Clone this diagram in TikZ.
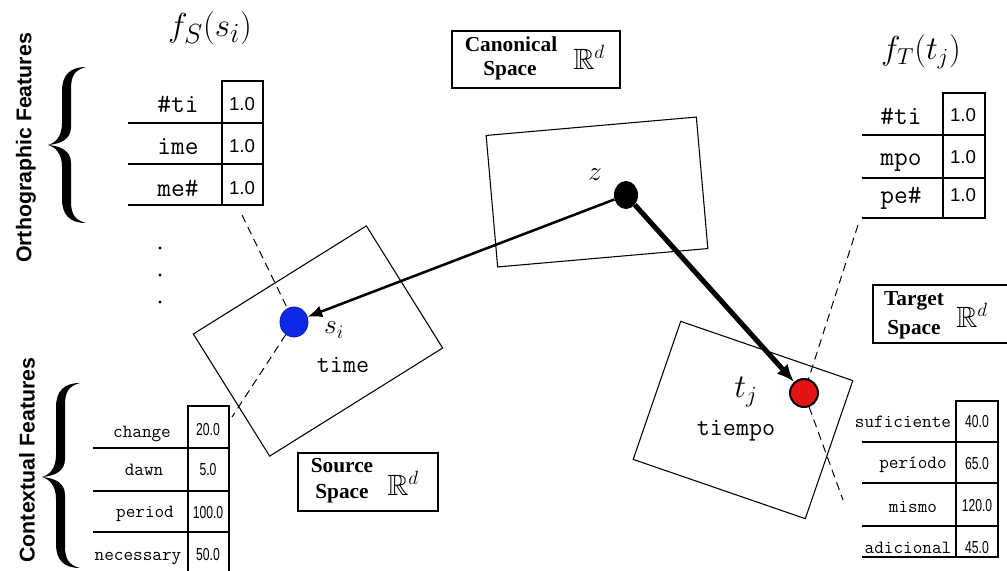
\documentclass[tikz,border=0pt]{standalone}
\usepackage{fontspec}
\usepackage{amssymb}
\newfontfamily\lsans{Liberation Sans}
\newfontfamily\lserif{Liberation Serif}
\newfontfamily\lnarrow[FakeStretch=0.7]{Liberation Sans}
\usetikzlibrary{arrows.meta,shapes.geometric}
\definecolor{dotblue}{RGB}{10,40,230}
\definecolor{dotred}{RGB}{228,20,20}
% filled curly brace: #1 spine x, #2 top y, #3 tip y, #4 bottom y (pixel units)
\newcommand{\mybrace}[4]{%
  \fill (#1+19,#2) .. controls (#1+3,#2) and (#1-5,#2+8) .. (#1-5,#2+24)
    -- (#1-5,#3-22) .. controls (#1-5,#3-8) and (#1-12,#3-2) .. (#1-19,#3)
    .. controls (#1-12,#3+2) and (#1-5,#3+8) .. (#1-5,#3+22)
    -- (#1-5,#4-24) .. controls (#1-5,#4-8) and (#1+3,#4) .. (#1+19,#4)
    .. controls (#1+7,#4-3) and (#1+4,#4-10) .. (#1+4,#4-22)
    -- (#1+4,#3+18) .. controls (#1+4,#3+6) and (#1-6,#3+1) .. (#1-19,#3)
    .. controls (#1-6,#3-1) and (#1+4,#3-6) .. (#1+4,#3-18)
    -- (#1+4,#2+22) .. controls (#1+4,#2+10) and (#1+7,#2+3) .. (#1+19,#2) -- cycle;}
\begin{document}
\begin{tikzpicture}[x=0.75pt,y=-0.75pt,
  space/.style={draw, line width=0.8pt, inner sep=0},
  lbl/.style={font=\fontsize{16}{17}\selectfont\lserif\bfseries, inner sep=0, anchor=base},
  rd/.style={font=\fontsize{22}{24}\selectfont, inner sep=0, anchor=base west},
  tt/.style={font=\fontsize{20}{22}\selectfont\ttfamily, inner sep=0, anchor=base},
  ttsm/.style={font=\fontsize{14}{16}\selectfont\ttfamily, inner sep=0, anchor=base},
  val/.style={font=\fontsize{14}{16}\selectfont\lsans, inner sep=0, anchor=base},
  valsm/.style={font=\fontsize{13}{15}\selectfont\lnarrow, inner sep=0, anchor=base},
  tab/.style={line width=1pt},
  dashline/.style={dash pattern=on 6pt off 4pt, line width=0.75pt},
  feat/.style={font=\fontsize{16}{18}\selectfont\lsans\bfseries, rotate=90, inner sep=0},
  mlbl/.style={font=\fontsize{21}{23}\selectfont, inner sep=0},
  vdot/.style={circle, fill=black, inner sep=0, minimum size=2.5pt},
]
\useasboundingbox (0,0) rectangle (1007,571);

% rotated spaces
\node[space, minimum width=158.25pt, minimum height=99pt, rotate=5] (canrect) at (597,192) {};
\node[space, minimum width=153pt, minimum height=108pt, rotate=32] (srcrect) at (318,341) {};
\node[space, minimum width=136.5pt, minimum height=109.5pt, rotate=-19] (tgtrect) at (743,420) {};

% points
\node[ellipse, fill=black, minimum width=18pt, minimum height=21pt, inner sep=0] (z) at (626,195) {};
\node[ellipse, fill=dotblue, draw=dotblue!70!black, line width=0.6pt, minimum width=21pt, minimum height=22.5pt, inner sep=0] (si) at (294,322) {};
\node[circle, fill=dotred, draw=black, line width=1.5pt, minimum size=21pt, inner sep=0] (tj) at (804,393) {};

% point labels
\node[mlbl] (zl) at (595,175) {$z$};
\node[mlbl, font=\fontsize{22}{24}\selectfont] (sil) at (334,330) {$s_i$};
\node[mlbl, font=\fontsize{27}{29}\selectfont] (tjl) at (746,392) {$t_j$};
\node[font=\fontsize{19}{21}\selectfont\ttfamily, inner sep=0] (timel) at (343,365) {time};
\node[font=\fontsize{19}{21}\selectfont\ttfamily, inner sep=0] (tiempol) at (736,431) {tiempo};

% arrows
\draw[line width=1.9pt, -{Latex[length=11pt,width=9pt]}] (z) -- (si);
\draw[line width=3.8pt, -{Latex[length=13pt,width=11pt]}] (z) -- (tj);

% dashed projections
\coordinate (sdu) at (242,215);
\coordinate (sdl) at (232,417);
\coordinate (tdu) at (858,225);
\coordinate (tdl) at (843,500);
\draw[dashline] (sdu) -- (si);
\draw[dashline] (si) -- (sdl);
\draw[dashline] (tdu) -- (tj);
\draw[dashline] (tj) -- (tdl);

% space boxes
\node[space, minimum width=126pt, minimum height=42.75pt] (canbox) at (536,59.5) {};
\node[lbl] (can1) at (511,51) {Canonical};
\node[lbl] (can2) at (510,75) {Space};
\node[rd] (canR) at (573,69) {$\mathbb{R}^d$};

\node[space, minimum width=105pt, minimum height=43.5pt] (srcbox) at (368,482) {};
\node[lbl] (src1) at (342,472) {Source};
\node[lbl] (src2) at (342,498) {Space};
\node[rd] (srcR) at (387,495) {$\mathbb{R}^d$};

\node[space, minimum width=106.5pt, minimum height=43.5pt] (tgtbox) at (944,314) {};
\node[lbl] (tgt1) at (914,305) {Target};
\node[lbl] (tgt2) at (914,334) {Space};
\node[rd] (tgtR) at (956,327) {$\mathbb{R}^d$};

% feature function labels
\node[font=\fontsize{28}{30}\selectfont, inner sep=0] (fs) at (210,28) {$f_S(s_i)$};
\node[font=\fontsize{24}{26}\selectfont, inner sep=0] (ft) at (921,52) {$f_T(t_j)$};

% side labels and braces
\node[feat] (orth) at (26,148) {Orthographic Features};
\node[feat] (ctx) at (27,460) {Contextual Features};
\mybrace{67}{67}{145}{223}
\mybrace{61}{383}{477}{568}

% left orthographic table
\draw[tab] (222,81) rectangle (263,205);
\draw[tab] (128,123) -- (263,123);
\draw[tab] (128,164) -- (263,164);
\draw[tab] (128,205) -- (263,205);
\node[tt] (lo1) at (178,112) {\#ti};
\node[tt] (lo2) at (178,154) {ime};
\node[tt] (lo3) at (178,196) {me\#};
\node[val] (lov1) at (242,110) {1.0};
\node[val] (lov2) at (242,152) {1.0};
\node[val] (lov3) at (242,194) {1.0};
\node[vdot] (vd1) at (160,248) {};
\node[vdot] (vd2) at (160,275) {};
\node[vdot] (vd3) at (160,302) {};

% left contextual table
\draw[tab] (188,575) -- (188,406) -- (229,406) -- (229,575);
\draw[line width=2pt] (93,448) -- (229,448);
\draw[tab] (93,491) -- (229,491);
\draw[tab] (93,532) -- (229,532);
\node[ttsm] (lc1) at (142,437) {change};
\node[ttsm] (lc2) at (144,475) {dawn};
\node[ttsm] (lc3) at (145,517) {period};
\node[ttsm] (lc4) at (138,560) {necessary};
\node[valsm] (lcv1) at (208,435) {20.0};
\node[valsm] (lcv2) at (208,475) {5.0};
\node[valsm] (lcv3) at (208,518) {100.0};
\node[valsm] (lcv4) at (208,560) {50.0};

% right orthographic table
\draw[tab] (943,93) rectangle (985,218);
\draw[tab] (862,135) -- (985,135);
\draw[tab] (862,178) -- (985,178);
\draw[tab] (862,218) -- (985,218);
\node[tt] (ro1) at (901,124) {\#ti};
\node[tt] (ro2) at (901,165) {mpo};
\node[tt] (ro3) at (901,203) {pe\#};
\node[val] (rov1) at (963,121) {1.0};
\node[val] (rov2) at (963,163) {1.0};
\node[val] (rov3) at (963,201) {1.0};

% right contextual table
\draw[tab] (956,401) rectangle (998,557);
\draw[tab] (862,442) -- (998,442);
\draw[tab] (862,483) -- (998,483);
\draw[tab] (862,526) -- (998,526);
\draw[tab] (862,557) -- (998,557);
\node[ttsm] (rc1) at (903,427) {suficiente};
\node[ttsm] (rc2) at (913,468) {período};
\node[ttsm] (rc3) at (913,512) {mismo};
\node[ttsm] (rc4) at (908,553) {adicional};
\node[valsm] (rcv1) at (977,427) {40.0};
\node[valsm] (rcv2) at (977,469) {65.0};
\node[valsm] (rcv3) at (977,511) {120.0};
\node[valsm] (rcv4) at (977,553) {45.0};
\end{tikzpicture}
\end{document}
